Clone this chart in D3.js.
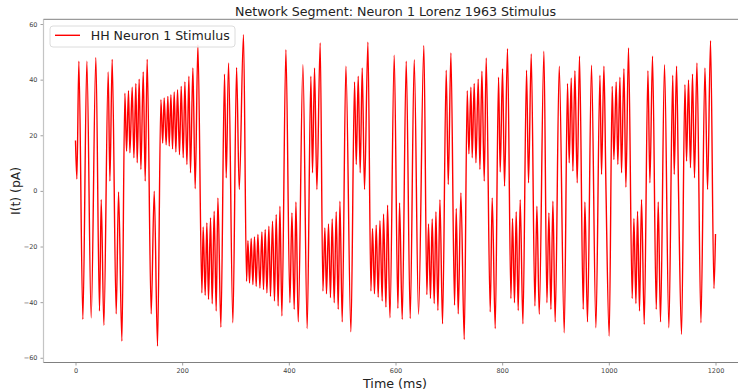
<!DOCTYPE html>
<html>
<head>
<meta charset="utf-8">
<script src="https://cdn.jsdelivr.net/npm/d3@7"></script>
<style>
  html, body { margin: 0; padding: 0; background: #fff; }
  svg { display: block; font-family: "DejaVu Sans", sans-serif; }
</style>
</head>
<body>
<svg id="chart" width="738" height="392"></svg>
<script>
// Stimulus current: turning points (time in ms, current in pA)
const timeMs = [
  0, 2.6, 6.3, 13.8, 21.3, 29.4, 38.2, 45, 48.2, 53.2, 61.3, 64.5, 68.8, 76.3, 80.7, 87,
  92.6, 95.7, 99.4, 102, 106.3, 109.5, 113.2, 115.7, 119.4, 122.6, 127, 130.7, 134.4, 141.9, 147.6, 153.8,
  160.1, 163.5, 166.3, 170, 173.2, 175.7, 178.9, 181.9, 185.1, 188.2, 191.3, 195, 198.2, 202, 205.1, 208.9,
  212.6, 215.6, 220.1, 224.4, 229.5, 237, 239.4, 243.2, 246.3, 249.4, 253.2, 256.3, 260, 263.8, 267, 272.6,
  279.4, 282.6, 287, 295.1, 302, 307, 315, 320.7, 323.3, 326.3, 329.4, 332.6, 335.6, 338.8, 342, 345.8,
  349.5, 352.5, 355.7, 358.9, 362.6, 365.6, 369.4, 373.1, 376.3, 380, 383.3, 387, 394.5, 402, 405.8, 410.1,
  413.3, 417.6, 426.4, 434.4, 441.3, 444.4, 448.2, 452.6, 458.8, 463.9, 467.6, 470.6, 474.4, 478.1, 481.3, 485.1,
  488.8, 492.6, 495.8, 500.1, 507, 516.4, 523.2, 526.4, 530.1, 533.8, 537.6, 541.9, 548.3, 553.9, 556.9, 560.6,
  563.8, 567.6, 570.8, 575.1, 577.5, 582.1, 585.1, 589.6, 597.6, 604.5, 607.6, 612.6, 620.1, 627.6, 635.1, 643.2,
  653.2, 658.8, 661.9, 665.6, 668.8, 672.6, 675.8, 679.5, 683.3, 688.2, 695.1, 698.9, 703.9, 710.7, 713.9, 717.6,
  722.6, 728.9, 734.5, 737.6, 741.4, 743.8, 747.6, 750.8, 755.1, 758.3, 762, 766.4, 770.1, 777.6, 781.3, 787,
  793.2, 796.3, 800.7, 804.4, 810, 816.4, 819.4, 823.1, 826.3, 830.1, 833.8, 838.9, 845.7, 849.4, 854.5, 861.4,
  865.1, 869.5, 878.3, 883.9, 887.6, 891.4, 895.1, 899.4, 907, 916.4, 922.5, 925.7, 929.5, 932.6, 936.4, 940.7,
  945, 952, 955.1, 960, 967.5, 975.8, 983.3, 986.3, 990.8, 994.5, 1000.7, 1006.3, 1009.5, 1013.8, 1016.9, 1020.8,
  1023.8, 1028.3, 1032, 1036.9, 1043.8, 1047, 1050.8, 1053.8, 1057.5, 1061.3, 1066.4, 1073.3, 1077, 1081.9, 1088.9, 1092.6,
  1096.9, 1104.4, 1112.6, 1119.8, 1122.6, 1127, 1130.7, 1136.3, 1142.7, 1145.7, 1149.4, 1153.1, 1156.9, 1160.6, 1165.2, 1172.7,
  1180.2, 1185.1, 1190.7, 1197.1, 1200
];
const currentPa = [
  18.1, 4.3, 46.6, -46.2, 46.6, -45.6, 48, -43.2, -3.1, -48.3, 42.8, 3.5, 47.3, -44.2, -0.4, -54,
  35.1, 14.3, 36, 13.7, 37.3, 11.9, 38.6, 10.1, 40.2, 7.7, 42.8, 3.5, 47.3, -44.2, -0.1, -55.8,
  32.8, 17.2, 33.4, 16.6, 34, 16.1, 34.6, 15.1, 35.6, 14, 36.4, 13, 37.6, 11.9, 39.2, 9.5,
  41.2, 6.5, 44.2, 0.8, 52.6, -36.7, -13, -37.5, -11.5, -39, -9.7, -40.6, -7.3, -43.2, -2.5, -49,
  42, 4.7, 46, -47.4, 44.4, 0.5, 56.2, -32.5, -17.9, -33.1, -17.1, -33.7, -16.6, -34.3, -15.7, -34.9,
  -14.8, -35.5, -13.9, -36.7, -12.7, -37.9, -10.9, -39.6, -8.5, -41.4, -5.5, -45, 50.8, -40.2, -7.9, -42.6,
  -4, -47.1, 45.4, -49.5, 41.2, 6.5, 44.2, 0.5, 53.2, -36, -13.3, -37, -11.9, -38.4, -10.1, -40.2,
  -7.5, -42.6, -3.7, -47.1, 44.8, -50.7, 39.2, 9.5, 41.2, 6.5, 44.2, 0.5, 53.5, -36, -13.5, -37,
  -12.3, -38.2, -10.7, -39.6, -8.3, -41.8, -5.1, -45.6, 48.8, -42.3, -4.3, -46.2, 46.6, -45.9, 47.2, -44.4,
  52.3, -37.3, -11.9, -38.7, -10.1, -40.5, -7.5, -43, -3.2, -47.8, 43.4, 2.3, 49.6, -41.1, -6.3, -44.2,
  -0.7, -53.4, 36, 13.3, 37.3, 11.9, 38.6, 10.1, 40.2, 7.7, 43, 3.5, 47.8, -43.5, -2.5, -49.5,
  40.9, 6.8, 43.9, 1.7, 51.1, -38.7, -9.9, -40.2, -7.5, -43, -3.2, -47.8, 43.4, 2.9, 49.2, -41.4,
  -5.5, -44.4, 50.2, -40.2, -7.9, -42.6, -3.7, -47.1, 44.8, -51, 38.6, 10.1, 40.6, 7.1, 43.2, 2.9,
  48.4, -42.6, -4, -47.1, 45.2, -49.2, 41.6, 5.9, 44.8, 2.3, -52.2, 37.6, 11.3, 39.2, 9.5, 40.9,
  6.5, 43.9, 1.3, 51.4, -38.7, -9.9, -40.5, -7.3, -43.2, -3.1, -48, 43.2, 2.9, 48.4, -42.6, -4,
  -47.1, 45.4, -49.2, 41.6, 5.9, 44.8, -0.1, -51.6, 38.2, 10.7, 39.9, 8.3, 42, 4.7, 46, -47.4,
  44.2, 0.5, 54, -35.1, -15.5
];
const xTicks = [0, 200, 400, 600, 800, 1000, 1200];
const yTicks = [-60, -40, -20, 0, 20, 40, 60];
const seriesName = "HH Neuron 1 Stimulus";

const svg = d3.select("#chart");
const plot = { left: 43.5, right: 747.5, top: 19.3, bottom: 362.5 };

const x = d3.scaleLinear().domain([-60, 1260]).range([plot.left, plot.right]);
const y = d3.scaleLinear().domain([-61.7, 61.7]).range([plot.bottom, plot.top]);

const points = timeMs.map((t, i) => [t, currentPa[i]]);

// clip the trace to the axes area
svg.append("clipPath").attr("id", "plotClip")
  .append("rect")
  .attr("x", plot.left).attr("y", plot.top)
  .attr("width", plot.right - plot.left).attr("height", plot.bottom - plot.top);

// trace
const line = d3.line()
  .x(d => x(d[0]))
  .y(d => y(d[1]))
  .curve(d3.curveMonotoneX);

svg.append("path")
  .datum(points)
  .attr("clip-path", "url(#plotClip)")
  .attr("fill", "none")
  .attr("stroke", "#ff0000")
  .attr("stroke-width", 1.4)
  .attr("stroke-linejoin", "round")
  .attr("d", line);

// axes
const xAxis = d3.axisBottom(x).tickValues(xTicks).tickSize(3).tickPadding(3).tickFormat(d3.format("d"));
const yAxis = d3.axisLeft(y).tickValues(yTicks).tickSize(3).tickPadding(3)
  .tickFormat(d => d < 0 ? "\u2212" + Math.abs(d) : String(d));

const gx = svg.append("g").attr("transform", `translate(0,${plot.bottom})`).call(xAxis);
const gy = svg.append("g").attr("transform", `translate(${plot.left},0)`).call(yAxis);

[gx, gy].forEach(g => {
  g.select(".domain").remove();
  g.selectAll(".tick line").attr("stroke", "#888").attr("stroke-width", 0.8);
  g.selectAll(".tick text")
    .attr("fill", "#444")
    .style("font-size", "6.5px")
    .style("font-family", "DejaVu Sans, sans-serif");
});

// spines
svg.append("line").attr("x1", plot.left).attr("x2", plot.left)
  .attr("y1", plot.top).attr("y2", plot.bottom)
  .attr("stroke", "#c4c4c4").attr("stroke-width", 1.2);
svg.append("line").attr("x1", plot.left).attr("x2", plot.right)
  .attr("y1", plot.top).attr("y2", plot.top)
  .attr("stroke", "#9a9a9a").attr("stroke-width", 1.2);
svg.append("line").attr("x1", plot.left).attr("x2", plot.right)
  .attr("y1", plot.bottom).attr("y2", plot.bottom)
  .attr("stroke", "#808080").attr("stroke-width", 1.2);

// title
svg.append("text")
  .attr("x", 235).attr("y", 15.5)
  .attr("textLength", 321).attr("lengthAdjust", "spacingAndGlyphs")
  .style("font-size", "12px").attr("fill", "#222")
  .text("Network Segment: Neuron 1 Lorenz 1963 Stimulus");

// axis labels
svg.append("text")
  .attr("x", 363).attr("y", 387.5)
  .attr("textLength", 64).attr("lengthAdjust", "spacingAndGlyphs")
  .style("font-size", "13px").attr("fill", "#222")
  .text("Time (ms)");

svg.append("text")
  .attr("transform", "translate(20,215) rotate(-90)")
  .attr("textLength", 48).attr("lengthAdjust", "spacingAndGlyphs")
  .style("font-size", "12.5px").attr("fill", "#222")
  .text("I(t) (pA)");

// legend
const legend = svg.append("g");
legend.append("rect")
  .attr("x", 50).attr("y", 26).attr("width", 185).attr("height", 21).attr("rx", 3)
  .attr("fill", "#fff").attr("fill-opacity", 0.85)
  .attr("stroke", "#dcdcdc").attr("stroke-width", 1);
legend.append("line")
  .attr("x1", 55).attr("x2", 80).attr("y1", 35.3).attr("y2", 35.3)
  .attr("stroke", "#ff0000").attr("stroke-width", 1.4);
legend.append("text")
  .attr("x", 90.7).attr("y", 40)
  .attr("textLength", 139).attr("lengthAdjust", "spacingAndGlyphs")
  .style("font-size", "13px").attr("fill", "#222")
  .text(seriesName);
</script>
</body>
</html>
